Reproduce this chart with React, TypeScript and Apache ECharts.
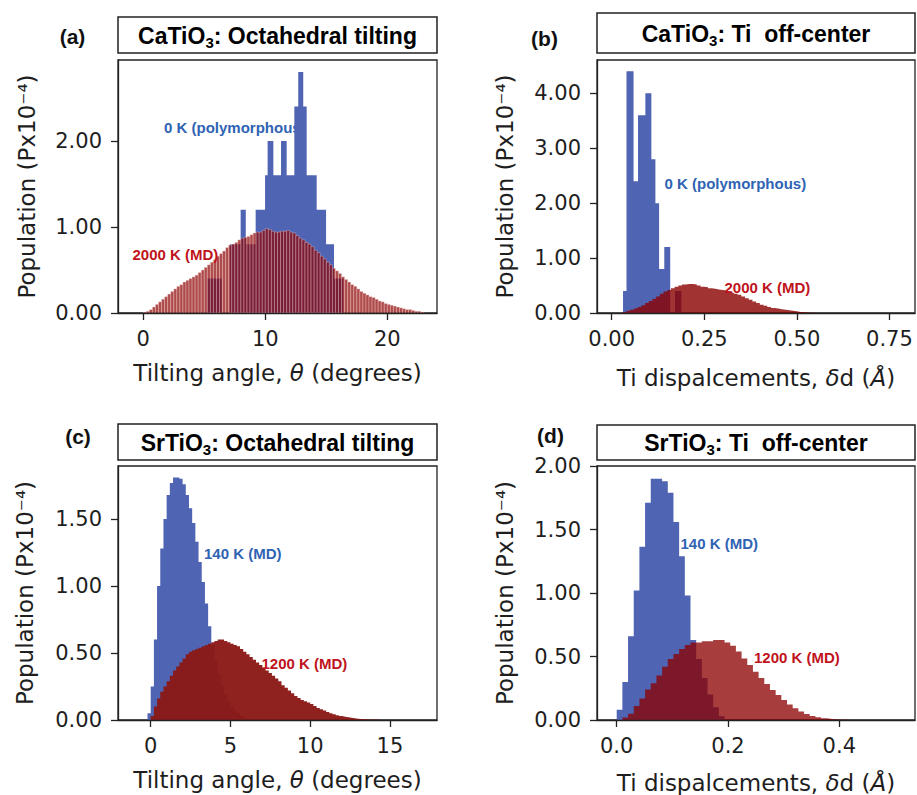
import React, { useEffect, useRef } from "react";
import * as echarts from "echarts";

// ---------- Panel (a): CaTiO3 octahedral tilting ----------
const aBlueEdges = [5.25, 6.42, 7.1, 7.98, 8.4, 9.21, 9.98, 10.19, 10.66, 11.29, 11.75, 12.38, 12.7, 13.11, 13.39, 14.21, 14.98, 15.63, 16.39];
const aBlueHeights = [0.4, 0, 0.8, 1.2, 0.8, 1.2, 1.6, 2.0, 1.6, 2.0, 1.6, 2.4, 2.8, 2.4, 1.6, 1.2, 0.8, 0.4];
const aRedStart = 0;
const aRedBin = 0.25;
const aRedHeights = [
  0.01, 0.02, 0.04, 0.07, 0.1, 0.13, 0.16, 0.19, 0.22, 0.25, 0.28, 0.31, 0.33, 0.36, 0.38, 0.4,
  0.42, 0.44, 0.47, 0.5, 0.53, 0.56, 0.59, 0.62, 0.66, 0.69, 0.72, 0.76, 0.79, 0.8, 0.82, 0.85,
  0.87, 0.88, 0.89, 0.91, 0.93, 0.94, 0.94, 0.96, 0.98, 0.97, 0.95, 0.94, 0.94, 0.95, 0.95, 0.96,
  0.94, 0.93, 0.9, 0.87, 0.85, 0.82, 0.8, 0.77, 0.73, 0.7, 0.66, 0.63, 0.59, 0.56, 0.52, 0.49,
  0.46, 0.42, 0.39, 0.36, 0.33, 0.31, 0.28, 0.25, 0.23, 0.21, 0.19, 0.18, 0.16, 0.14, 0.13, 0.11,
  0.1, 0.09, 0.08, 0.07, 0.06, 0.05, 0.04, 0.04, 0.03, 0.02, 0.02, 0.01,
];
const aXTicks = [0, 10, 20];
const aYTicks = [0, 1, 2];

// ---------- Panel (b): CaTiO3 Ti off-center ----------
const bBlueEdges = [0.0306, 0.04, 0.059, 0.0711, 0.0909, 0.1071, 0.118, 0.128, 0.142, 0.158, 0.171, 0.188];
const bBlueHeights = [0.4, 4.4, 2.4, 3.6, 4.0, 2.8, 2.0, 0.8, 1.2, 0, 0.4];
const bRedStart = 0.03;
const bRedBin = 0.01;
const bRedHeights = [
  0.02, 0.04, 0.06, 0.08, 0.11, 0.14, 0.18, 0.22, 0.26, 0.3, 0.35, 0.39, 0.42, 0.45, 0.48, 0.5,
  0.52, 0.53, 0.53, 0.52, 0.5, 0.48, 0.47, 0.45, 0.44, 0.43, 0.42, 0.41, 0.39, 0.37, 0.35, 0.33,
  0.3, 0.27, 0.24, 0.21, 0.18, 0.15, 0.13, 0.11, 0.09, 0.08, 0.07, 0.06, 0.05, 0.04, 0.03, 0.02,
  0.015, 0.01, 0.005, 0.003,
];
const bXTicks = [0, 0.25, 0.5, 0.75];
const bYTicks = [0, 1, 2, 3, 4];

// ---------- Panel (c): SrTiO3 octahedral tilting ----------
const cBlueStart = -0.2;
const cBlueBin = 0.2;
const cBlueHeights = [
  0.05, 0.25, 0.6, 1.0, 1.28, 1.5, 1.68, 1.77, 1.81, 1.81, 1.8, 1.76, 1.68, 1.58, 1.47, 1.33,
  1.18, 1.03, 0.87, 0.7, 0.56, 0.44, 0.34, 0.26, 0.19, 0.14, 0.1, 0.07, 0.05, 0.03, 0.02, 0.01,
];
const cRedStart = 0;
const cRedBin = 0.2;
const cRedHeights = [
  0.03, 0.1, 0.16, 0.21, 0.25, 0.29, 0.33, 0.37, 0.4, 0.43, 0.46, 0.49, 0.51, 0.52, 0.53, 0.54,
  0.55, 0.56, 0.57, 0.58, 0.59, 0.6, 0.6, 0.59, 0.58, 0.57, 0.56, 0.55, 0.53, 0.51, 0.49, 0.47,
  0.45, 0.43, 0.41, 0.39, 0.37, 0.35, 0.33, 0.31, 0.29, 0.26, 0.24, 0.22, 0.2, 0.18, 0.165, 0.15,
  0.14, 0.13, 0.12, 0.105, 0.09, 0.08, 0.07, 0.06, 0.05, 0.042, 0.036, 0.03, 0.025, 0.02, 0.016,
  0.013, 0.01, 0.008, 0.006, 0.005, 0.004, 0.003, 0.002, 0.001,
];
const cXTicks = [0, 5, 10, 15];
const cYTicks = [0, 0.5, 1, 1.5];

// ---------- Panel (d): SrTiO3 Ti off-center ----------
const dBlueStart = 0;
const dBlueBin = 0.0102;
const dBlueHeights = [0.08, 0.3, 0.66, 1.02, 1.365, 1.71, 1.9, 1.9, 1.88, 1.79, 1.56, 1.29, 0.98, 0.63, 0.48, 0.33, 0.2, 0.1, 0.03];
const dRedStart = 0.0102;
const dRedBin = 0.0102;
const dRedHeights = [
  0.02, 0.05, 0.11, 0.17, 0.24, 0.29, 0.35, 0.42, 0.48, 0.52, 0.56, 0.59, 0.61, 0.61, 0.62, 0.62,
  0.63, 0.63, 0.61, 0.585, 0.54, 0.485, 0.433, 0.38, 0.33, 0.284, 0.236, 0.197, 0.157, 0.123,
  0.092, 0.066, 0.047, 0.031, 0.021, 0.013, 0.008, 0.004, 0.002, 0.001,
];
const dXTicks = [0, 0.2, 0.4];
const dYTicks = [0, 0.5, 1, 1.5, 2];

// ---------- helpers ----------
function edgesFrom(start: number, bin: number, n: number): number[] {
  const e: number[] = [];
  for (let i = 0; i <= n; i++) e.push(+(start + i * bin).toFixed(6));
  return e;
}

function stepData(edges: number[], heights: number[]) {
  const d: number[][] = [[edges[0], 0]];
  heights.forEach((h, i) => d.push([edges[i], h]));
  d.push([edges[edges.length - 1], 0]);
  return d;
}

function barData(edges: number[], heights: number[]) {
  return heights.map((h, i) => [edges[i], edges[i + 1], h]);
}

const BLUE = "#5064b4";
const TXT = "#1e1e1e";
const TICKFONT = "DejaVu Sans";
const TITLEFONT = "Liberation Sans, Arial, sans-serif";
const LBL_BLUE = "#2f63b3";
const LBL_RED = "#c0141c";

export default function App() {
  const ref = useRef<HTMLDivElement>(null);

  useEffect(() => {
    document.body.style.margin = "0";
    if (!ref.current) return;
    const chart = echarts.init(ref.current, null, { renderer: "svg", width: 917, height: 795 });

    const grids = [
      { left: 118, top: 60, width: 319, height: 253 },
      { left: 597, top: 60, width: 318, height: 253 },
      { left: 118, top: 466, width: 319, height: 254 },
      { left: 597, top: 466, width: 318, height: 254 },
    ].map((g) => ({ ...g, show: true, borderColor: "#222", borderWidth: 1.3, backgroundColor: "transparent" }));

    const nameRich = {
      n: { fontFamily: TICKFONT, fontSize: 23, color: TXT },
      i: { fontFamily: TICKFONT, fontSize: 23, color: TXT, fontStyle: "italic" },
    };

    const mkX = (gi: number, min: number, max: number, ticks: number[], dec: number, name: string, gap: number) => ({
      type: "value",
      gridIndex: gi,
      min,
      max,
      z: 5,
      name,
      nameLocation: "middle",
      nameGap: gap,
      nameTextStyle: { rich: nameRich },
      axisLine: { show: true, onZero: false, lineStyle: { color: "#222", width: 1.3 } },
      axisTick: { show: true, length: 7, customValues: ticks, lineStyle: { color: "#222", width: 1.3 } },
      axisLabel: {
        customValues: ticks,
        margin: 15,
        fontFamily: TICKFONT,
        fontSize: 21,
        color: TXT,
        formatter: (v: number) => v.toFixed(dec),
      },
      splitLine: { show: false },
    });

    const mkY = (gi: number, max: number, ticks: number[], gap: number) => ({
      type: "value",
      gridIndex: gi,
      min: 0,
      max,
      z: 5,
      name: "Population (Px10⁻⁴)",
      nameLocation: "middle",
      nameGap: gap,
      nameTextStyle: { fontFamily: TICKFONT, fontSize: 23, color: TXT },
      axisLine: { show: true, onZero: false, lineStyle: { color: "#222", width: 1.3 } },
      axisTick: { show: true, length: 7, customValues: ticks, lineStyle: { color: "#222", width: 1.3 } },
      axisLabel: {
        customValues: ticks,
        margin: 16,
        fontFamily: TICKFONT,
        fontSize: 21,
        color: TXT,
        formatter: (v: number) => v.toFixed(2),
      },
      splitLine: { show: false },
    });

    const stepSeries = (gi: number, data: number[][], color: string, z: number) => ({
      type: "line",
      xAxisIndex: gi,
      yAxisIndex: gi,
      data,
      step: "end",
      symbol: "none",
      showSymbol: false,
      lineStyle: { width: 0, opacity: 0 },
      areaStyle: { color, opacity: 1 },
      z,
      silent: true,
    });

    const aRedEdges = edgesFrom(aRedStart, aRedBin, aRedHeights.length);
    const bRedEdges = edgesFrom(bRedStart, bRedBin, bRedHeights.length);
    const cBlueEdges = edgesFrom(cBlueStart, cBlueBin, cBlueHeights.length);
    const cRedEdges = edgesFrom(cRedStart, cRedBin, cRedHeights.length);
    const dBlueEdges = edgesFrom(dBlueStart, dBlueBin, dBlueHeights.length);
    const dRedEdges = edgesFrom(dRedStart, dRedBin, dRedHeights.length);

    const titleRich = {
      b: { fontFamily: TITLEFONT, fontWeight: "bold", fontSize: 23, color: "#111", lineHeight: 27 },
      s: { fontFamily: TITLEFONT, fontWeight: "bold", fontSize: 15, color: "#111", lineHeight: 12, verticalAlign: "bottom" },
    };

    const titleBox = (x: number, y: number, w: number, h: number, text: string, ty: number) => [
      { type: "rect", shape: { x, y, width: w, height: h }, style: { fill: "#fff", stroke: "#222", lineWidth: 1.5 }, z: 50 },
      {
        type: "text",
        x: x + w / 2,
        y: ty,
        z: 51,
        style: { text, rich: titleRich, align: "center", verticalAlign: "middle" },
      },
    ];

    const panelLabel = (x: number, y: number, text: string) => ({
      type: "text",
      x,
      y,
      z: 60,
      style: { text, fontFamily: TITLEFONT, fontWeight: "bold", fontSize: 21, fill: "#111", align: "center", verticalAlign: "middle" },
    });

    const inner = (x: number, y: number, text: string, fill: string, z: number) => ({
      type: "text",
      x,
      y,
      z,
      style: { text, fontFamily: TITLEFONT, fontWeight: "bold", fontSize: 15, fill, align: "left", verticalAlign: "middle" },
    });

    const option: any = {
      animation: false,
      backgroundColor: "#fff",
      grid: grids,
      xAxis: [
        mkX(0, -2.07, 24.07, aXTicks, 0, "{n|Tilting angle, }{i|θ}{n| (degrees)}", 48),
        mkX(1, -0.0397, 0.819, bXTicks, 2, "{n|Ti dispalcements, }{i|δ}{n|d (}{i|Å}{n|)}", 53),
        mkX(2, -2.05, 17.95, cXTicks, 0, "{n|Tilting angle, }{i|θ}{n| (degrees)}", 48),
        mkX(3, -0.0354, 0.536, dXTicks, 1, "{n|Ti dispalcements, }{i|δ}{n|d (}{i|Å}{n|)}", 51),
      ],
      yAxis: [mkY(0, 2.94, aYTicks, 80), mkY(1, 4.606, bYTicks, 81), mkY(2, 1.896, cYTicks, 82), mkY(3, 2.0, dYTicks, 81)],
      series: [
        stepSeries(0, stepData(aBlueEdges, aBlueHeights), BLUE, 2),
        {
          type: "custom",
          xAxisIndex: 0,
          yAxisIndex: 0,
          data: barData(aRedEdges, aRedHeights),
          encode: { x: [0, 1], y: 2 },
          clip: true,
          z: 3,
          silent: true,
          renderItem: (_p: any, api: any) => {
            const p0 = api.coord([api.value(0), api.value(2)]);
            const p1 = api.coord([api.value(1), 0]);
            return {
              type: "rect",
              shape: { x: p0[0], y: p0[1], width: p1[0] - p0[0], height: p1[1] - p0[1] },
              style: { fill: "rgba(139,0,0,0.7)", stroke: "rgba(255,225,225,0.45)", lineWidth: 0.7 },
            };
          },
        },
        stepSeries(1, stepData(bBlueEdges, bBlueHeights), BLUE, 2),
        stepSeries(1, stepData(bRedEdges, bRedHeights), "rgba(139,0,0,0.8)", 3),
        stepSeries(2, stepData(cBlueEdges, cBlueHeights), BLUE, 2),
        stepSeries(2, stepData(cRedEdges, cRedHeights), "rgba(138,24,22,0.96)", 3),
        stepSeries(3, stepData(dBlueEdges, dBlueHeights), BLUE, 2),
        stepSeries(3, stepData(dRedEdges, dRedHeights), "rgba(139,0,0,0.76)", 3),
      ],
      graphic: [
        ...titleBox(118, 17, 319, 36, "{b|CaTiO}{s|3}{b|: Octahedral tilting}", 36),
        ...titleBox(597, 13, 318, 40, "{b|CaTiO}{s|3}{b|: Ti  off-center}", 34),
        ...titleBox(118, 424, 319, 36, "{b|SrTiO}{s|3}{b|: Octahedral tilting}", 443),
        ...titleBox(597, 425, 318, 35, "{b|SrTiO}{s|3}{b|: Ti  off-center}", 443),
        panelLabel(72.5, 36, "(a)"),
        panelLabel(544.5, 38, "(b)"),
        panelLabel(78, 436, "(c)"),
        panelLabel(550.5, 435, "(d)"),
        inner(164, 127, "0 K (polymorphous)", LBL_BLUE, 1),
        inner(132.5, 254, "2000 K (MD)", LBL_RED, 100),
        inner(664.5, 183, "0 K (polymorphous)", LBL_BLUE, 100),
        inner(724.5, 287.5, "2000 K (MD)", LBL_RED, 100),
        inner(204, 553.5, "140 K (MD)", LBL_BLUE, 100),
        inner(261.5, 663.5, "1200 K (MD)", LBL_RED, 100),
        inner(680.5, 543, "140 K (MD)", LBL_BLUE, 100),
        inner(754, 657.5, "1200 K (MD)", LBL_RED, 100),
      ],
    };

    chart.setOption(option);
    return () => chart.dispose();
  }, []);

  return <div ref={ref} style={{ width: 917, height: 795 }} />;
}
